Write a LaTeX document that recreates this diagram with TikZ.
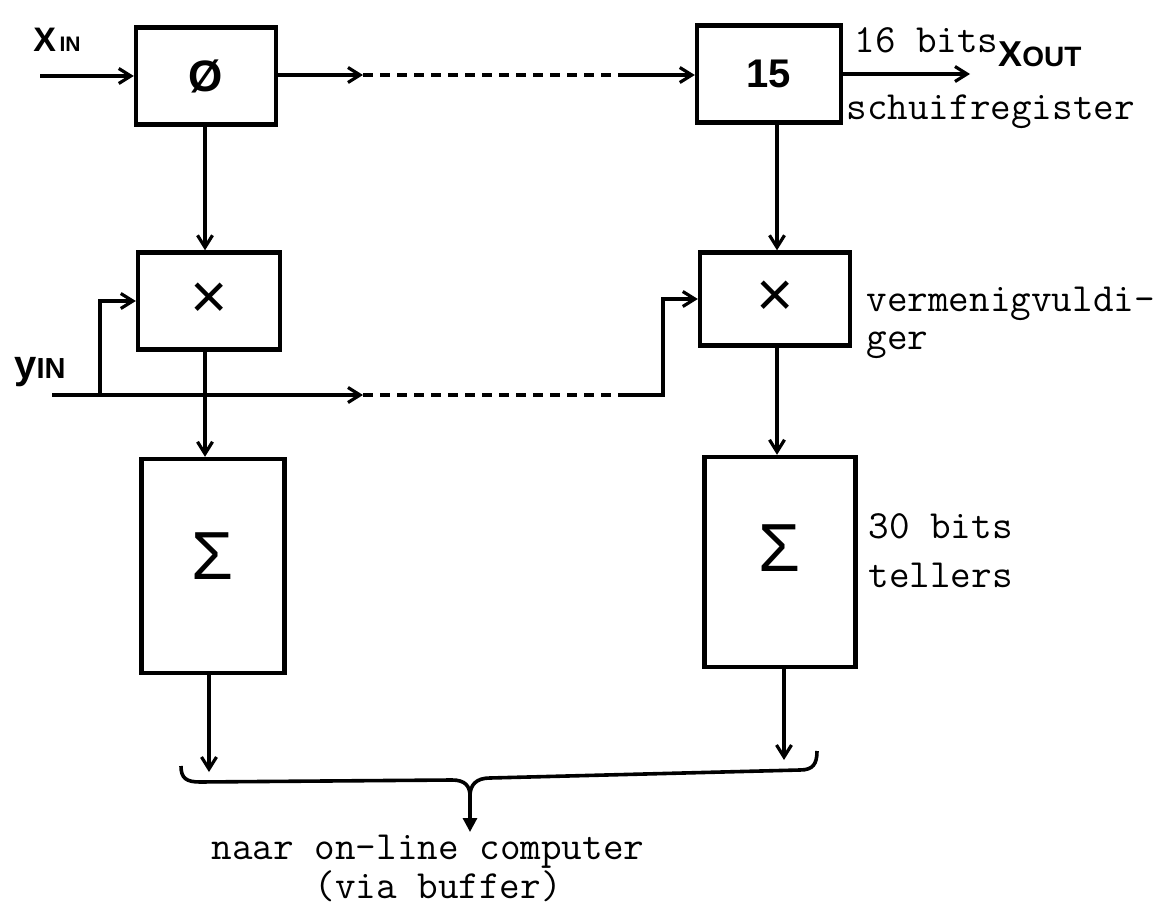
\documentclass[tikz,border=0pt]{standalone}
\usepackage{fontspec}
\newfontfamily\hand{Liberation Sans}
\usetikzlibrary{arrows.meta}
\begin{document}
\begin{tikzpicture}[x=0.5pt,y=-0.5pt,
  blk/.style={draw,line width=2.2pt,inner sep=0pt,rectangle},
  conn/.style={line width=1.6pt},
  arr/.style={conn,-{Straight Barb[length=6pt,width=7.5pt,line width=1.6pt]}},
  farr/.style={conn,-{Triangle[length=7pt,width=7pt]}},
  dashln/.style={line width=2pt,dash pattern=on 5pt off 3.5pt},
  typ/.style={font={\ttfamily\fontsize{20}{24}\selectfont},inner sep=0pt},
  hw/.style={inner sep=0pt},
  sym/.style={font={\hand\fontsize{34}{34}\selectfont}}
]
\useasboundingbox[fill=white] (0,0) rectangle (1169,904);

% blocks
\node[blk,minimum width=70pt,minimum height=48.5pt] (phi) at (206,76)
  {\hand\bfseries\fontsize{22}{22}\selectfont Ø};
\node[blk,minimum width=72pt,minimum height=48.5pt] (b15) at (769,74)
  {\hand\bfseries\fontsize{20}{20}\selectfont 15};
\node[blk,minimum width=71pt,minimum height=48.5pt] (mulL) at (209,301)
  {\hand\fontsize{32}{32}\selectfont ×};
\node[blk,minimum width=75pt,minimum height=46.5pt] (mulR) at (775,299)
  {\hand\fontsize{32}{32}\selectfont ×};
\node[blk,minimum width=71.5pt,minimum height=107pt,
  label={[sym,yshift=5pt]center:Σ}] (sumL) at (213,566) {};
\node[blk,minimum width=75.5pt,minimum height=105pt,
  label={[sym,yshift=7pt]center:Σ}] (sumR) at (780,562) {};

% column coordinates
\coordinate (lc) at (205,0);
\coordinate (rc) at (777,0);

% x line
\coordinate (xin) at (40,76);
\coordinate (d1a) at (363,75);
\coordinate (d1b) at (625,75);
\coordinate (xo) at (970,74);
\draw[arr] (xin) -- (phi.west);
\draw[arr] (phi.east |- d1a) -- (d1a);
\draw[dashln] (d1a) -- (d1b);
\draw[arr] (d1b) -- (b15.west |- d1b);
\draw[arr] (b15.east |- xo) -- (xo);

% verticals
\draw[arr] (phi.south -| lc) -- (mulL.north -| lc);
\draw[arr] (mulL.south -| lc) -- (sumL.north -| lc);
\draw[arr] (b15.south -| rc) -- (mulR.north -| rc);
\draw[arr] (mulR.south -| rc) -- (sumR.north -| rc);

% y line
\coordinate (yin) at (52,395);
\coordinate (yb) at (100,395);
\coordinate (d2a) at (363,395);
\coordinate (d2b) at (620,395);
\coordinate (yc) at (663,395);
\draw[arr] (yin) -- (d2a);
\draw[arr] (yb) |- (mulL.west);
\draw[dashln] (d2a) -- (d2b);
\draw[arr] (d2b) -- (yc) |- (mulR.west);

% outputs to brace
\coordinate (bl) at (209,772);
\coordinate (br) at (784,760);
\draw[arr] (sumL.south -| bl) -- (bl);
\draw[arr] (sumR.south -| br) -- (br);

% brace
\draw[line width=1.8pt] (181,766) .. controls (181,778) and (186,782) .. (200,782)
  -- (452,780) .. controls (465,780) and (470,786) .. (470,796)
  .. controls (470,785) and (476,778) .. (490,778)
  -- (800,770) .. controls (813,770) and (817,764) .. (817,751);
\coordinate (bt) at (470,796);
\coordinate (btip) at (470,832);
\draw[farr] (bt) -- (btip);

% handwritten labels
\node[hw,anchor=base west,font={\hand\bfseries}] (lxin) at (33,52)
  {\fontsize{17}{17}\selectfont X\fontsize{10.5}{10.5}\selectfont\,IN};
\node[hw,anchor=base west,font={\hand\bfseries}] (lxout) at (998,67)
  {\fontsize{18}{18}\selectfont X\fontsize{14}{14}\selectfont OUT};
\node[hw,anchor=base west,font={\hand\bfseries}] (lyin) at (14,379)
  {\fontsize{20}{20}\selectfont y\fontsize{14.5}{14.5}\selectfont IN};

% typed labels
\node[typ,anchor=base west] (t16) at (854,53) {16 bits};
\node[typ,anchor=base west] (tschuif) at (846,120) {schuifregister};
\node[typ,anchor=base west] (tverm) at (866,312) {vermenigvuldi-};
\node[typ,anchor=base west] (tger) at (866,350) {ger};
\node[typ,anchor=base west] (t30) at (868,538) {30 bits};
\node[typ,anchor=base west] (ttel) at (868,587) {tellers};
\node[typ,anchor=base] (tnaar) at (428,859) {naar on-line computer};
\node[typ,anchor=base] (tvia) at (438,898) {(via buffer)};
\end{tikzpicture}
\end{document}
